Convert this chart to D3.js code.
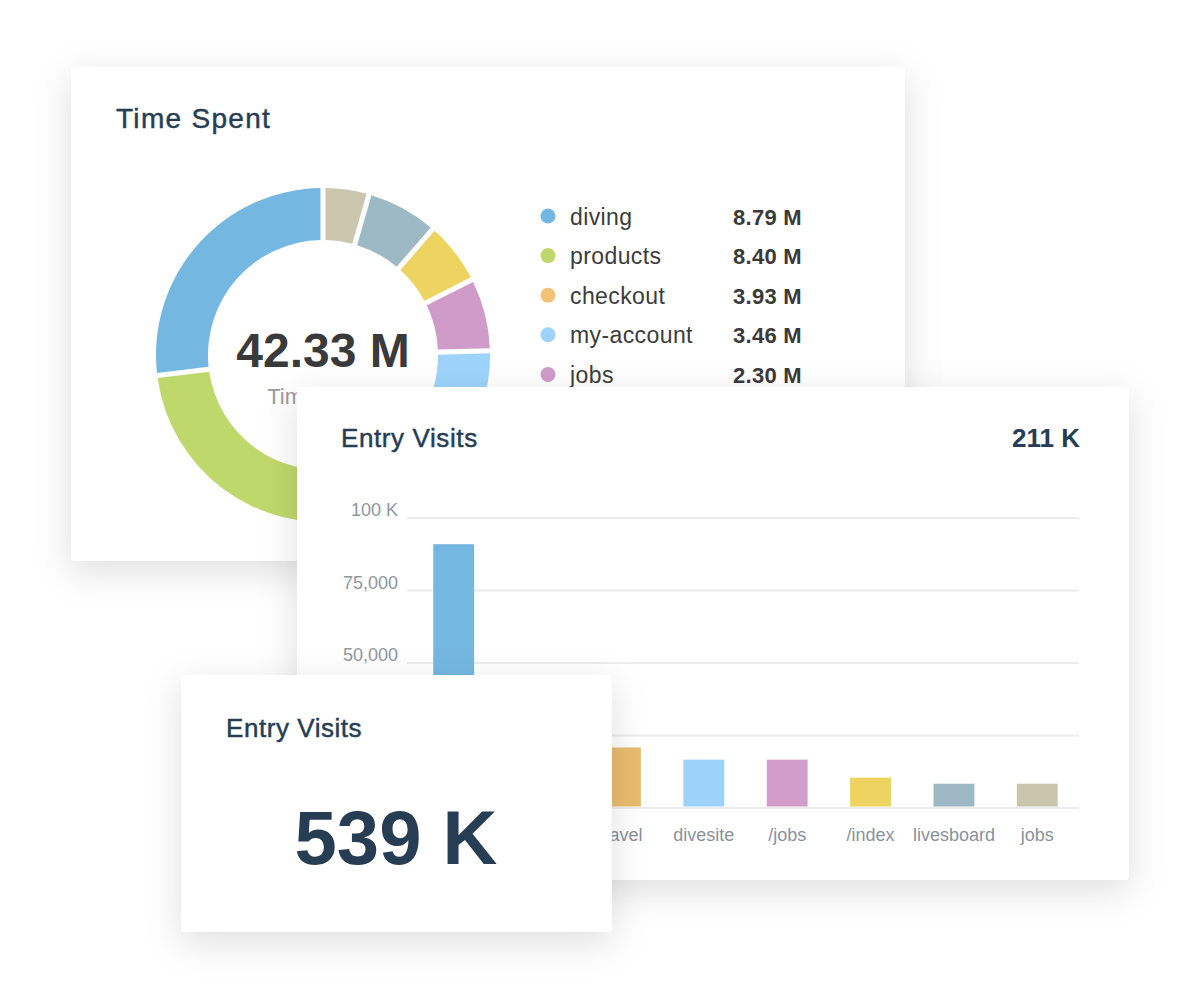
<!DOCTYPE html>
<html><head><meta charset="utf-8">
<script src="https://cdn.jsdelivr.net/npm/d3@7"></script>
<style>html,body{margin:0;padding:0;background:#fff;} svg{display:block;}</style>
</head><body>
<svg id="chart" width="1200" height="1000"></svg>
<script>
// ---- Donut (Time Spent) ----
const donutCategories = ["diving","products","checkout","my-account","jobs","index","livesboard","travel"];
const donutValues = [8.79, 8.40, 3.93, 3.46, 2.30, 2.00, 2.27, 1.45];
const donutColors = ["#74b8e2","#bfd86b","#f2c374","#9dd3fb","#cf9bc9","#edd360","#9db9c4","#cbc6ae"];
const legendValueLabels = ["8.79 M","8.40 M","3.93 M","3.46 M","2.30 M"];
const legendVisibleCount = 5;
const donutTotalLabel = "42.33 M";
const donutSubLabel = "Time Spent";
const donutTitle = "Time Spent";

// ---- Bars (Entry Visits) ----
const barCategories = ["/diving","/products","travel","divesite","/jobs","/index","livesboard","jobs"];
const barValues = [90800, 40100, 20700, 16500, 16500, 10300, 8200, 8200];
const barColors = ["#74b7e1","#bfd86b","#e9bc6f","#9dd2fb","#d29ec9","#edd360","#9db8c3","#cac5ad"];
const yTickValues = [0, 25000, 50000, 75000, 100000];
const yTickLabels = ["0","25,000","50,000","75,000","100 K"];
const barTitle = "Entry Visits";
const barTotalLabel = "211 K";

// ---- KPI card ----
const kpiTitle = "Entry Visits";
const kpiValueLabel = "539 K";

const FONT = "'Liberation Sans', Arial, Helvetica, sans-serif";
const TITLE_COLOR = "#263d54";

const svg = d3.select("#chart");
const defs = svg.append("defs");
const f = defs.append("filter").attr("id","shadow")
  .attr("x","-20%").attr("y","-20%").attr("width","140%").attr("height","150%");
f.append("feDropShadow").attr("dx",0).attr("dy",10).attr("stdDeviation",18)
  .attr("flood-color","#000").attr("flood-opacity",0.13);

function card(x, y, w, h) {
  const g = svg.append("g").attr("transform", `translate(${x},${y})`);
  g.append("rect").attr("width", w).attr("height", h).attr("rx", 4)
    .attr("fill", "#fff").attr("filter", "url(#shadow)");
  return g;
}
function title(g, x, y, txt, size, ls) {
  return g.append("text").attr("x", x).attr("y", y)
    .attr("font-family", FONT).attr("font-size", size).attr("fill", TITLE_COLOR)
    .attr("stroke", TITLE_COLOR).attr("stroke-width", 0.45)
    .attr("letter-spacing", ls).text(txt);
}

// card 3 rectangle (page coords) used to skip labels it fully hides
const C3 = {x: 181, y: 675, w: 431, h: 257};

// ================= Card 1: donut =================
const c1 = card(71, 67, 834, 494);
title(c1, 45, 61, donutTitle, 28, 1.3);

const cx = 323 - 71, cy = 355 - 67;
const pie = d3.pie().sort(null).value(d => d).startAngle(0).endAngle(-2 * Math.PI);
const arc = d3.arc().innerRadius(115).outerRadius(167).padAngle(0.025);
const dg = c1.append("g").attr("transform", `translate(${cx},${cy})`);
dg.selectAll("path").data(pie(donutValues)).join("path")
  .attr("d", arc).attr("fill", (d, i) => donutColors[i]);
dg.append("text").attr("text-anchor","middle").attr("y", 12)
  .attr("font-family", FONT).attr("font-weight","bold").attr("font-size", 48)
  .attr("fill", "#3a3a3a").text(donutTotalLabel);
dg.append("text").attr("text-anchor","middle").attr("y", 49)
  .attr("font-family", FONT).attr("font-size", 22)
  .attr("fill", "#9a9a9a").text(donutSubLabel);

const legend = c1.append("g");
const rows = legend.selectAll("g").data(donutCategories.slice(0, legendVisibleCount)).join("g")
  .attr("transform", (d, i) => `translate(0,${216 - 67 + i * 39.6})`);
rows.append("circle").attr("cx", 548 - 71).attr("r", 7.5).attr("fill", (d, i) => donutColors[i]);
rows.append("text").attr("x", 570 - 71).attr("y", 8.5)
  .attr("font-family", FONT).attr("font-size", 23).attr("letter-spacing", 0.4)
  .attr("fill", "#3c3c3c").text(d => d);
rows.append("text").attr("x", 802 - 71).attr("y", 8.5).attr("text-anchor","end")
  .attr("font-family", FONT).attr("font-weight","bold").attr("font-size", 22)
  .attr("letter-spacing", 0.3)
  .attr("fill", "#3a3a3a").text((d, i) => legendValueLabels[i]);

// ================= Card 2: bars =================
const c2x = 297, c2y = 387;
const c2 = card(c2x, c2y, 832, 493);
title(c2, 341 - c2x, 447 - c2y, barTitle, 26, 0.6);
c2.append("text").attr("x", 1080 - c2x).attr("y", 447 - c2y).attr("text-anchor","end")
  .attr("font-family", FONT).attr("font-weight","bold").attr("font-size", 26).attr("fill", TITLE_COLOR)
  .text(barTotalLabel);

const y = d3.scaleLinear().domain([0, 100000]).range([807.5 - c2y, 517.5 - c2y]);
const x = d3.scaleBand().domain(barCategories).range([412 - c2x, 1079 - c2x])
  .paddingInner(0.51).paddingOuter(0.255);

const gridLeft = 407 - c2x, gridRight = 1079 - c2x;
const yAxis = d3.axisLeft(y).tickValues(yTickValues)
  .tickFormat((d, i) => yTickLabels[i]).tickSize(-(gridRight - gridLeft)).tickPadding(9);
const ya = c2.append("g").attr("transform", `translate(${gridLeft},0)`).call(yAxis);
ya.select(".domain").remove();
ya.selectAll(".tick line").attr("stroke", "#ececec").attr("stroke-width", 2);
ya.selectAll(".tick text").attr("font-family", FONT).attr("font-size", 18)
  .attr("fill", "#8f979f").attr("dy", "-0.1em");
// labels completely covered by the front card are not drawn
ya.selectAll(".tick").filter(d => y(d) + c2y > C3.y + 10).select("text").remove();

c2.append("g").selectAll("rect").data(barValues).join("rect")
  .attr("x", (d, i) => x(barCategories[i]))
  .attr("width", x.bandwidth())
  .attr("y", d => y(d))
  .attr("height", d => y(0) - y(d) - 1)
  .attr("fill", (d, i) => barColors[i]);

const xAxis = d3.axisBottom(x).tickSize(0).tickPadding(0);
const xa = c2.append("g").attr("transform", `translate(0,${y(0)})`).call(xAxis);
xa.select(".domain").remove();
xa.selectAll(".tick text").attr("font-family", FONT).attr("font-size", 18)
  .attr("fill", "#8a929a").attr("dy", 0).attr("y", 841 - 807.5);
xa.selectAll(".tick").filter(d => x(d) + x.step() * 0.2 + c2x < C3.x + C3.w - 40).select("text").remove();

// ================= Card 3: KPI =================
const c3 = card(C3.x, C3.y, C3.w, C3.h);
title(c3, 226 - C3.x, 737 - C3.y, kpiTitle, 26, 0.55);
c3.append("text").attr("x", 396 - C3.x).attr("y", 864 - C3.y).attr("text-anchor","middle")
  .attr("font-family", FONT).attr("font-weight","bold").attr("font-size", 76).attr("fill", TITLE_COLOR)
  .text(kpiValueLabel);
</script>
</body></html>
